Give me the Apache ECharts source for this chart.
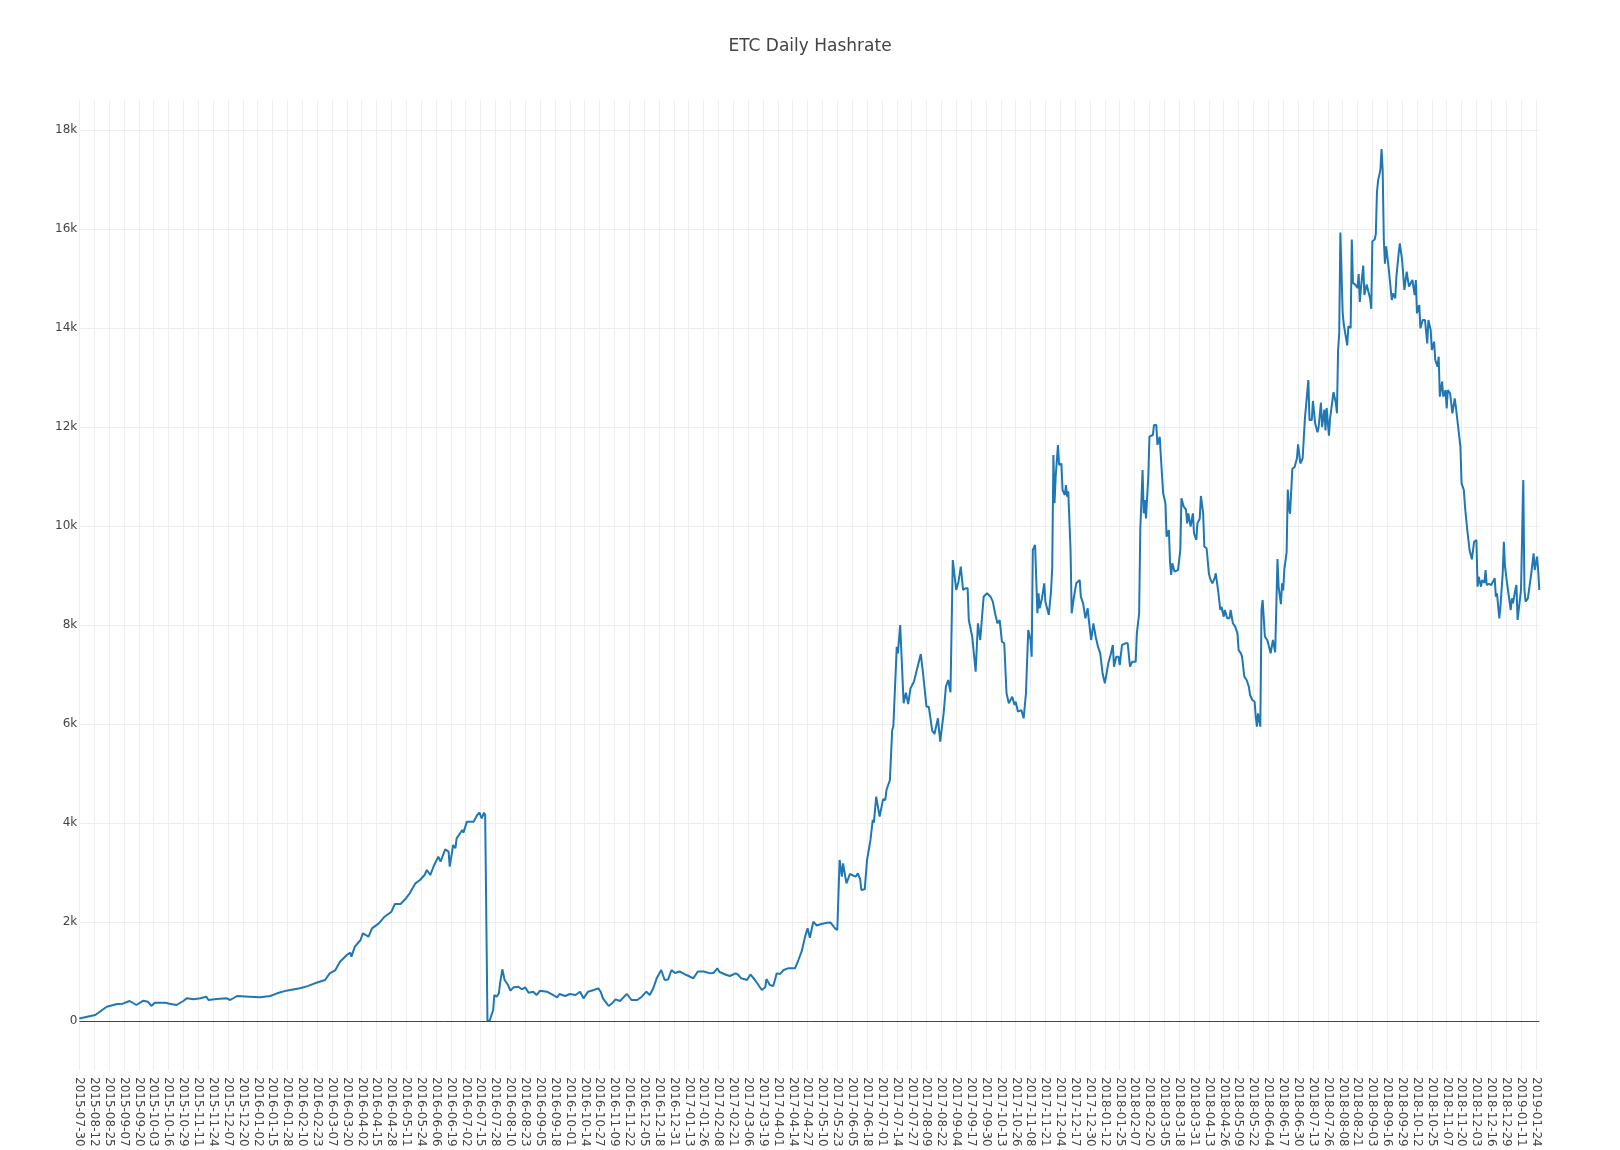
<!DOCTYPE html>
<html>
<head>
<meta charset="utf-8">
<script src="https://cdn.jsdelivr.net/npm/echarts@6/dist/echarts.min.js"></script>
<style>
html,body{margin:0;padding:0;background:#fff;}
#chart{width:1620px;height:1150px;}
</style>
</head>
<body>
<div id="chart"></div>
<script>
// ---- data ----
const titleText = 'ETC Daily Hashrate';
const startDate = '2015-07-30';
const dayCount = 1278; // daily categories 2015-07-30 .. 2019-01-27
const labelEvery = 13;

// day offsets (from startDate) of the read-off points
const dayIndex = [
0,14,20,24,33,38,44,50,56,60,63,66,75,79,85,91,94,100,106,111,113,120,129,132,138,149,158,167,173,181,
193,199,206,215,219,224,228,234,237,238,241,246,248,253,256,262,267,273,276,281,285,289,294,298,302,304,307,310,314,316,
320,323,324,327,329,330,335,336,339,345,348,350,352,354,355,357,359,362,363,365,367,368,370,372,373,375,377,380,384,387,
390,393,397,400,403,409,413,418,420,425,429,434,438,441,445,450,454,456,458,463,466,469,473,476,479,483,488,492,496,499,
502,505,509,512,515,518,521,525,530,533,537,541,546,552,555,558,560,565,569,574,576,579,584,587,591,594,597,600,601,604,
607,610,613,616,620,626,629,632,635,637,639,642,645,649,654,657,661,663,665,667,668,671,674,679,681,683,684,687,689,692,
694,695,697,700,703,705,706,709,711,712,714,715,716,718,719,721,723,725,727,730,734,736,738,741,743,746,748,751,753,756,
758,760,762,764,767,769,771,773,775,777,778,781,784,786,788,791,794,797,799,801,803,805,807,809,811,813,816,818,819,821,
824,826,828,830,832,833,834,836,838,839,840,842,844,845,848,850,851,852,853,854,856,857,859,860,862,863,864,865,867,868,
870,872,875,876,878,880,882,883,885,887,889,891,893,895,897,900,902,904,905,907,909,910,912,915,917,919,921,924,925,927,
928,930,931,932,933,935,936,937,939,940,942,943,945,946,948,950,951,953,954,955,956,958,961,962,963,964,966,968,969,970,
972,974,975,977,978,980,981,983,984,986,988,989,991,993,994,996,998,999,1001,1002,1004,1006,1007,1009,1011,1013,1014,1016,1017,1019,
1021,1023,1024,1026,1028,1029,1030,1031,1033,1034,1035,1037,1039,1041,1042,1044,1046,1048,1049,1051,1052,1053,1054,1056,1057,1058,1059,1061,1063,1065,
1066,1068,1070,1072,1073,1075,1076,1078,1079,1081,1083,1084,1086,1087,1089,1090,1091,1093,1094,1095,1097,1099,1100,1101,1102,1103,1105,1106,1107,1109,
1110,1112,1113,1114,1116,1118,1119,1120,1121,1123,1124,1126,1127,1129,1130,1131,1133,1134,1135,1136,1138,1139,1140,1141,1142,1143,1145,1146,1148,1149,
1151,1152,1154,1155,1157,1159,1161,1163,1164,1166,1168,1169,1170,1172,1173,1175,1177,1179,1180,1182,1183,1185,1186,1188,1189,1190,1192,1193,1195,1196,
1197,1199,1201,1203,1204,1206,1208,1209,1211,1212,1214,1216,1218,1219,1220,1222,1223,1224,1226,1227,1229,1230,1231,1233,1235,1236,1238,1239,1240,1242,
1243,1245,1246,1247,1249,1250,1252,1253,1254,1256,1257,1258,1259,1261,1262,1263,1264,1265,1267,1268,1270,1272,1273,1275,1276,1277
];

// daily hashrate values at those days
const hashrate = [
50,121,222,289,343,350,404,323,411,390,303,370,370,350,323,404,458,437,458,491,424,444,458,424,505,491,478,505,559,613,
660,700,761,828,963,1030,1198,1333,1380,1300,1501,1636,1771,1703,1872,1973,2107,2208,2364,2364,2458,2579,2781,2848,2949,3050,2949,3131,3319,3218,
3468,3421,3117,3556,3489,3690,3859,3805,4027,4027,4162,4208,4095,4208,4162,0,10,222,525,491,559,761,1044,828,828,727,613,680,693,640,
680,572,592,525,613,592,545,478,545,505,545,525,592,458,592,626,660,592,458,303,357,437,404,478,545,424,424,491,592,525,
660,862,1030,828,840,1030,970,1000,940,909,862,1000,1000,962,975,1064,990,940,909,962,940,862,828,940,828,727,626,680,848,727,
707,962,950,1030,1064,1064,1232,1420,1720,1872,1683,2006,1930,1960,1986,1990,1872,1838,3253,2915,3185,2781,2970,2915,2983,2862,2646,2660,3253,3657,
4061,4007,4532,4128,4478,4465,4667,4869,5879,5946,7024,7562,7427,8000,8020,6418,6633,6404,6720,6855,7226,7414,7024,6350,6350,5865,5798,6115,5643,6216,
6754,6889,6640,9313,8707,8875,9178,8707,8740,8740,8101,7764,7057,8034,7697,8572,8640,8572,8471,8236,8034,8100,7663,7630,6620,6418,6552,6384,6450,6249,
6280,6115,6620,7899,7697,7360,9515,9616,8236,8640,8337,8539,8842,8470,8202,8707,9178,11434,10458,11000,11636,11232,11260,10727,10626,10828,10593,10700,9515,8236,
8572,8842,8909,8572,8438,8135,8337,8100,7697,8034,7764,7562,7427,7024,6822,7226,7394,7596,7158,7360,7360,7190,7596,7630,7630,7158,7260,7260,7832,8236,
9919,11131,10256,10525,10155,11000,11804,11838,11838,12040,12040,11636,11804,11400,10660,10458,9784,9920,9280,9010,9246,9077,9110,9077,9515,10559,10391,10330,10054,10256,
9986,10256,9852,9717,10054,10150,10606,10256,9582,9550,9044,8942,8842,8942,9044,8707,8303,8370,8168,8303,8135,8135,8303,8034,7966,7832,7495,7427,7360,6956,
6889,6750,6586,6485,6450,6148,5946,6215,5946,8303,8505,7764,7697,7528,7427,7697,7450,9333,8771,8420,8842,8700,9122,9473,10737,10386,10246,11158,11193,11368,
11649,11263,11368,12175,12175,12947,12140,12140,12526,12070,11895,12000,12491,12000,12350,11930,12385,11824,12175,12175,12702,12491,12280,13544,13895,15930,14316,14070,14035,13649,
14035,14000,15789,14912,14877,14807,15088,14526,14807,15263,14667,14877,14877,14596,14386,15754,15789,15895,16737,16982,17193,17614,17193,15789,15298,15649,15263,15250,14566,14700,
14600,15037,15509,15711,15374,14768,15138,14835,14800,14970,14667,14970,14296,14465,13993,14162,14162,13690,14162,13960,13556,13724,13354,13219,13421,12612,12916,12612,12747,12377,
12747,12680,12276,12579,12410,12007,11602,10862,10727,10390,9919,9515,9327,9350,9683,9717,8774,8976,8774,8909,8850,9111,8808,8830,8808,8774,8943,8572,8640,8135,
8370,9044,9683,9178,8808,8840,8303,8539,8438,8707,8808,8101,8303,8707,8740,10929,8707,8471,8539,8572,9044,9448,9111,9380,9111,8707
];

// y-axis tick labels
const yTickValues = [0,2000,4000,6000,8000,10000,12000,14000,16000,18000];
const yTickLabels = ['0','2k','4k','6k','8k','10k','12k','14k','16k','18k'];

// ---- build ----
function buildDates(start, n){
  const out = [];
  const p = start.split('-').map(Number);
  const t0 = Date.UTC(p[0], p[1]-1, p[2]);
  for(let i=0;i<n;i++){
    const d = new Date(t0 + i*86400000);
    const mm = String(d.getUTCMonth()+1).padStart(2,'0');
    const dd = String(d.getUTCDate()).padStart(2,'0');
    out.push(d.getUTCFullYear()+'-'+mm+'-'+dd);
  }
  return out;
}
const categories = buildDates(startDate, dayCount);
const seriesData = dayIndex.map((d,i)=>[d, hashrate[i]]);

const FONT = 'DejaVu Sans';
const chart = echarts.init(document.getElementById('chart'), null, {renderer:'canvas'});
chart.setOption({
  backgroundColor:'#ffffff',
  animation:false,
  title:{
    text:titleText, left:'center', top:33,
    textStyle:{fontFamily:FONT, fontSize:17, fontWeight:'normal', color:'#444'}
  },
  grid:{left:79.3, right:80.7, top:100, bottom:80, containLabel:false},
  xAxis:{
    type:'category', data:categories, boundaryGap:false,
    axisLine:{show:false}, axisTick:{show:false},
    axisLabel:{interval:labelEvery-1, rotate:-90, margin:7, color:'#444', fontFamily:FONT, fontSize:12},
    splitLine:{show:true, interval:labelEvery-1, lineStyle:{color:'#eeeeee', width:1}}
  },
  yAxis:{
    type:'value', min:-990, max:18606, splitNumber:10,
    axisLine:{show:false}, axisTick:{show:false},
    axisLabel:{margin:2, color:'#444', fontFamily:FONT, fontSize:12,
      formatter:function(v){ const k = yTickValues.indexOf(v); return k>=0 ? yTickLabels[k] : ''; }},
    splitLine:{show:true, showMinLine:false, showMaxLine:false, lineStyle:{color:'#eeeeee', width:1}}
  },
  series:[
    {
      type:'line', data:[], z:1, silent:true,
      markLine:{silent:true, symbol:['none','none'], label:{show:false}, animation:false,
        lineStyle:{color:'#444', width:1, type:'solid'}, data:[{yAxis:0}]}
    },
    {
      type:'line', data:seriesData, z:3, showSymbol:false, symbol:'none',
      lineStyle:{color:'#1f77b4', width:2}, itemStyle:{color:'#1f77b4'}
    }
  ]
});
</script>
</body>
</html>
